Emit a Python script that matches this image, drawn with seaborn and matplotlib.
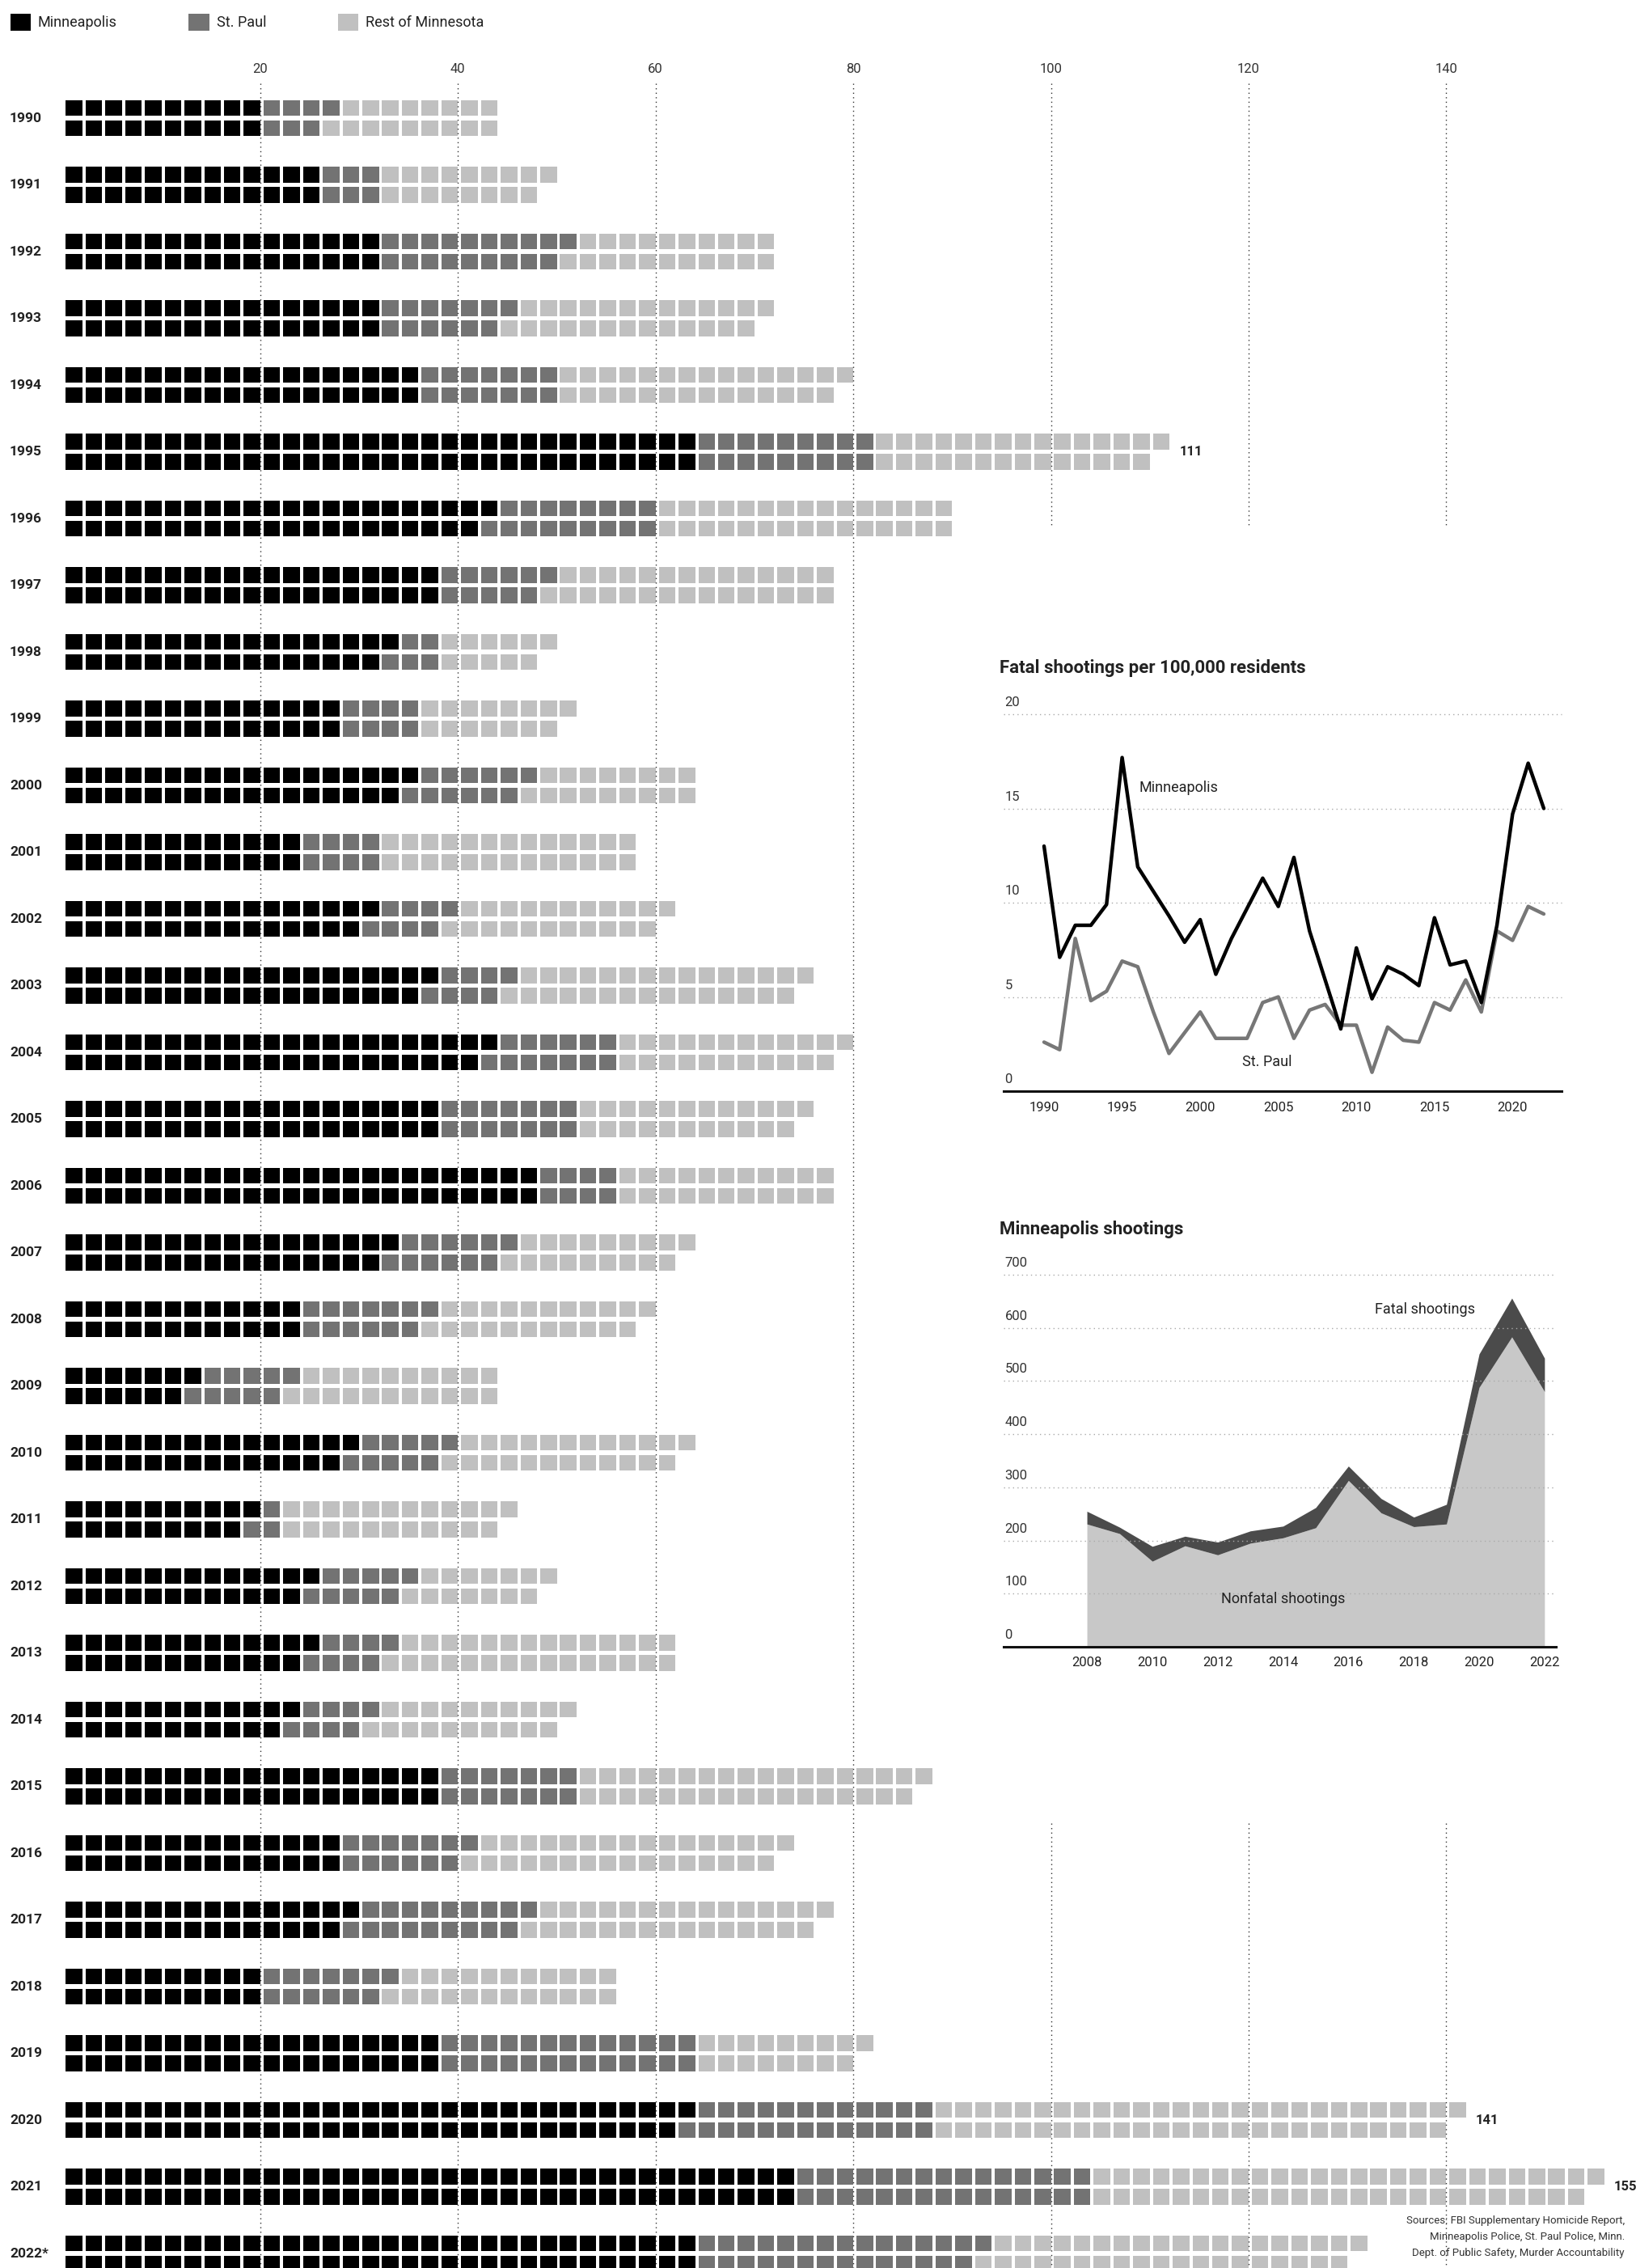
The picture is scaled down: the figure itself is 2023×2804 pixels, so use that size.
import math

import numpy as np
import pandas as pd
import matplotlib
matplotlib.use("Agg")
import matplotlib.pyplot as plt
from matplotlib.patches import Patch
import seaborn as sns

# ------------------------------------------------------------------
#  Data
# ------------------------------------------------------------------
years = list(range(1990, 2023))
year_labels = [str(y) for y in years[:-1]] + ["2022*"]

# fatal shootings, one square each
minneapolis = [20, 26, 32, 32, 36, 64, 43, 38, 33, 28, 35, 24, 31, 37, 43, 38, 48,
               33, 24, 13, 29, 19, 25, 25, 23, 38, 28, 29, 20, 38, 63, 74, 64]
st_paul = [7, 6, 19, 13, 14, 18, 17, 11, 5, 8, 12, 8, 8, 8, 13, 14, 8,
           12, 13, 10, 10, 3, 10, 8, 8, 14, 13, 18, 13, 26, 25, 30, 29]
rest_of_mn = [17, 17, 21, 26, 29, 29, 30, 29, 11, 15, 17, 26, 22, 30, 23, 23, 22,
              18, 22, 21, 24, 23, 14, 29, 20, 35, 32, 30, 23, 17, 53, 51, 38]
labelled_years = [1995, 2020, 2021]
axis_ticks = [20, 40, 60, 80, 100, 120, 140]

# fatal shootings per 100,000 residents
mpls_rate = [13.0, 7.1, 8.8, 8.8, 9.9, 17.7, 11.9, 10.6, 9.3, 7.9, 9.1, 6.2, 8.1, 9.7,
             11.3, 9.8, 12.4, 8.5, 5.9, 3.3, 7.6, 4.9, 6.6, 6.2, 5.6, 9.2, 6.7, 6.9,
             4.7, 8.8, 14.7, 17.4, 15.0]
stp_rate = [2.6, 2.2, 8.1, 4.8, 5.3, 6.9, 6.6, 4.2, 2.0, 3.1, 4.2, 2.8, 2.8, 2.8,
            4.7, 5.0, 2.8, 4.3, 4.6, 3.5, 3.5, 1.0, 3.4, 2.7, 2.6, 4.7, 4.3, 5.9,
            4.2, 8.5, 8.0, 9.8, 9.4]

# Minneapolis shootings
shoot_years = list(range(2008, 2023))
nonfatal = [231, 213, 161, 190, 173, 195, 205, 224, 313, 252, 226, 231, 488, 583, 480]
fatal = [24, 12, 28, 18, 24, 23, 22, 38, 27, 27, 18, 37, 63, 73, 63]

groups = ["Minneapolis", "St. Paul", "Rest of Minnesota"]
palette = {"Minneapolis": "#000000", "St. Paul": "#737373", "Rest of Minnesota": "#c0c0c0"}

# ------------------------------------------------------------------
#  Figure set-up (pixel based layout, 2024 x 2804)
# ------------------------------------------------------------------
W, H = 2024, 2804
sns.set_theme(style="white")
plt.rcParams["font.family"] = ["Roboto", "DejaVu Sans"]
plt.rcParams["text.color"] = "#222222"
plt.rcParams["xtick.color"] = "#222222"

fig = plt.figure(figsize=(W / 100, H / 100), dpi=100)
fig.patch.set_facecolor("white")

X0, UNIT = 77.5, 12.22   # px of value 0, px per death
Y0, ROW = 146, 82.5      # px of first row, px per year


def px_x(px):
    return (px - X0) / UNIT


def px_y(py):
    return (py - Y0) / ROW


ax = fig.add_axes([0, 0, 1, 1])
ax.set_xlim(px_x(0), px_x(W))
ax.set_ylim(px_y(H), px_y(0))
ax.axis("off")

# ------------------------------------------------------------------
#  Waffle rows: filled column by column, top square first
# ------------------------------------------------------------------
recs = []
for i, yr in enumerate(years):
    seq = (["Minneapolis"] * minneapolis[i] + ["St. Paul"] * st_paul[i]
           + ["Rest of Minnesota"] * rest_of_mn[i])
    for j, g in enumerate(seq):
        recs.append({"row": i, "col": j // 2, "half": j % 2, "group": g})
sq = pd.DataFrame(recs)

SQ_W = 20.5 / UNIT
SQ_H = 19.5 / ROW
for g in groups:
    d = sq[sq["group"] == g]
    bottoms = d["row"] + np.where(d["half"] == 0, -0.27, 0.035)
    ax.bar(d["col"] * 2 + 2 - SQ_W, SQ_H, width=SQ_W, bottom=bottoms,
           align="edge", color=palette[g], linewidth=0, zorder=2)

# dotted value gridlines
dot = (0, (1, 3))
y_top, y_bot = px_y(103), px_y(H)
ax.vlines(axis_ticks[:4], y_top, y_bot, colors="#333333", linestyles=dot,
          linewidth=1, zorder=3)
ax.vlines(axis_ticks[4:], y_top, px_y(650), colors="#333333", linestyles=dot,
          linewidth=1, zorder=3)
ax.vlines(axis_ticks[4:], px_y(2254), y_bot, colors="#333333", linestyles=dot,
          linewidth=1, zorder=3)
for v in axis_ticks:
    ax.text(v, px_y(85), str(v), ha="center", va="center", fontsize=12, color="#333333")

for i, lab in enumerate(year_labels):
    ax.text(px_x(12), i, lab, ha="left", va="center", fontsize=12.5, fontweight="bold")

for yr in labelled_years:
    i = years.index(yr)
    total = minneapolis[i] + st_paul[i] + rest_of_mn[i]
    ax.text(2 * math.ceil(total / 2) + 1, i, str(total), ha="left", va="center",
            fontsize=12, fontweight="bold")

handles = [Patch(facecolor=palette[g], edgecolor="none") for g in groups]
fig.legend(handles, groups, loc="upper left", bbox_to_anchor=(12.6 / W, 1 - 17 / H),
           ncol=3, frameon=False, fontsize=13, handlelength=1.4, handleheight=1.4,
           handletextpad=0.5, columnspacing=4.9, borderpad=0, borderaxespad=0)

# ------------------------------------------------------------------
#  Inset 1: fatal shootings per 100,000 residents
# ------------------------------------------------------------------
ax1 = fig.add_axes([1241 / W, 1 - 1349 / H, 690 / W, 466 / H])
rate = pd.DataFrame({"year": years, "Minneapolis": mpls_rate, "St. Paul": stp_rate})
rate_long = rate.melt(id_vars="year", var_name="city", value_name="rate")
sns.lineplot(data=rate_long, x="year", y="rate", hue="city",
             hue_order=["St. Paul", "Minneapolis"],
             palette={"Minneapolis": "#000000", "St. Paul": "#777777"},
             linewidth=3.2, legend=False, ax=ax1, zorder=3)
ax1.set_xlim(1987.41, 2023.14)
ax1.set_ylim(0, 20)
ax1.hlines([5, 10, 15, 20], 1987.41, 2023.14, colors="#aaaaaa", linestyles=dot,
           linewidth=1, clip_on=False, zorder=1)
for v in [0, 5, 10, 15, 20]:
    ax1.annotate(str(v), xy=(0, v), xycoords=("axes fraction", "data"),
                 xytext=(1, 5), textcoords="offset points", ha="left", va="bottom",
                 fontsize=12, color="#333333")
ax1.text(1996.1, 16.1, "Minneapolis", ha="left", va="center", fontsize=13)
ax1.text(2002.7, 1.55, "St. Paul", ha="left", va="center", fontsize=13)
ax1.set_xticks([1990, 1995, 2000, 2005, 2010, 2015, 2020])
ax1.tick_params(axis="x", length=0, pad=9, labelsize=12)
ax1.set_yticks([])
ax1.set_xlabel("")
ax1.set_ylabel("")
sns.despine(ax=ax1, left=True)
ax1.spines["bottom"].set_color("#111111")
ax1.spines["bottom"].set_linewidth(2.2)
ax1.patch.set_alpha(0)

fig.text(1236 / W, 1 - 826 / H, "Fatal shootings per 100,000 residents",
         ha="left", va="center", fontsize=16, fontweight="bold")

# ------------------------------------------------------------------
#  Inset 2: Minneapolis shootings
# ------------------------------------------------------------------
ax2 = fig.add_axes([1241 / W, 1 - 2036 / H, 683 / W, 460 / H])
ax2.stackplot(shoot_years, nonfatal, fatal, colors=["#c8c8c8", "#4b4b4b"],
              linewidth=0, zorder=2)
ax2.set_xlim(2005.45, 2022.35)
ax2.set_ylim(0, 700)
ax2.hlines(list(range(100, 800, 100)), 2005.45, 2022.35, colors="#aaaaaa",
           linestyles=dot, linewidth=1, clip_on=False, zorder=3)
for v in range(0, 800, 100):
    ax2.annotate(str(v), xy=(0, v), xycoords=("axes fraction", "data"),
                 xytext=(1, 5), textcoords="offset points", ha="left", va="bottom",
                 fontsize=12, color="#333333")
ax2.text(2016.8, 635, "Fatal shootings", ha="left", va="center", fontsize=13)
ax2.text(2014.0, 90, "Nonfatal shootings", ha="center", va="center", fontsize=13)
ax2.set_xticks(list(range(2008, 2023, 2)))
ax2.tick_params(axis="x", length=0, pad=9, labelsize=12)
ax2.set_yticks([])
sns.despine(ax=ax2, left=True)
ax2.spines["bottom"].set_color("#111111")
ax2.spines["bottom"].set_linewidth(2.2)
ax2.patch.set_alpha(0)

fig.text(1236 / W, 1 - 1520 / H, "Minneapolis shootings",
         ha="left", va="center", fontsize=16, fontweight="bold")

# ------------------------------------------------------------------
#  Sources
# ------------------------------------------------------------------
sources = ["Sources: FBI Supplementary Homicide Report,",
           "Minneapolis Police, St. Paul Police, Minn.",
           "Dept. of Public Safety, Murder Accountability"]
for k, line in enumerate(sources):
    fig.text(2009 / W, 1 - (2745 + 20 * k) / H, line, ha="right", va="center",
             fontsize=9.5, color="#333333")

fig.savefig("out.png", dpi=100, facecolor="white")
